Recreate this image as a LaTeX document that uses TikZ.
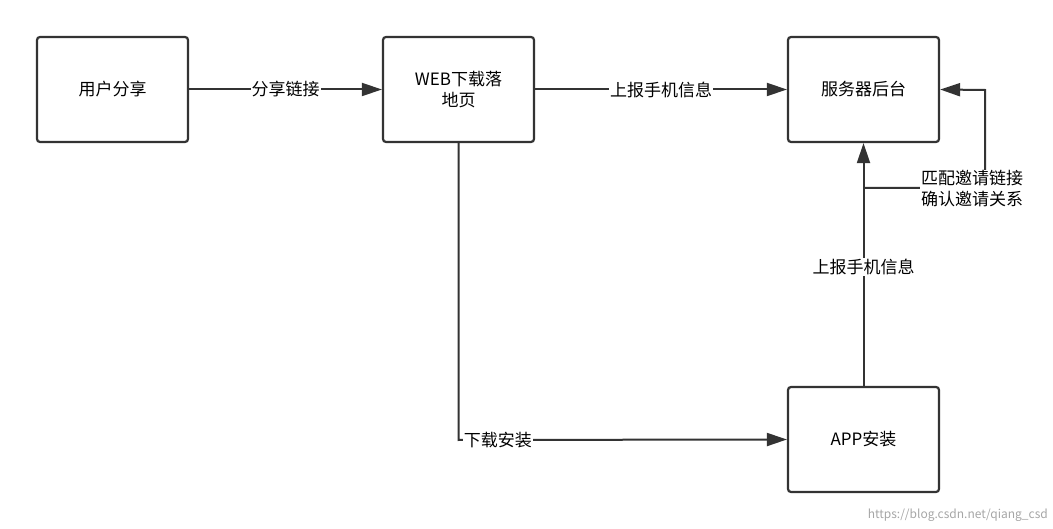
\documentclass[tikz,border=0pt]{standalone}
\usepackage{fontspec}
\setmainfont{Noto Sans CJK SC}
\usetikzlibrary{arrows.meta}
\definecolor{ln}{HTML}{333333}
\begin{document}
\begin{tikzpicture}[x=1pt,y=-1pt,
  box/.style={draw=ln,line width=2.2pt,rounded corners=3pt,minimum width=151pt,minimum height=105pt,align=center,font=\fontsize{17}{21}\selectfont,inner sep=0pt,text=black},
  conn/.style={draw=ln,line width=2pt,-{Triangle[length=20pt,width=13pt]}},
  lbl/.style={fill=white,inner sep=1pt,font=\fontsize{17}{21}\selectfont,align=left}]
\useasboundingbox (0,0) rectangle (1053,529);
\node[box] (share) at (112.5,89.5) {用户分享};
\node[box] (web) at (458.5,89.5) {WEB下载落\\地页};
\node[box] (srv) at (863.5,89.5) {服务器后台};
\node[box] (app) at (863.5,439.5) {APP安装};
\draw[conn] (share.east) -- node[lbl]{分享链接} (web.east -| web.west);
\draw[conn] (web.east) -- node[lbl]{上报手机信息} (srv.west);
\coordinate (c1) at (458.5,440);
\draw[conn] (web.south) -- (c1) -- node[lbl,pos=0.12]{下载安装} (app.west);
\draw[conn] (app.north) -- node[lbl,pos=0.49]{上报手机信息} (srv.south);
\coordinate (l1) at (863.5,188);
\coordinate (l2) at (985,188);
\coordinate (l3) at (985,90);
\draw[conn] (l1) -- (l2) -- (l3) -- (srv.east);
\node[lbl,align=left] (note) at (972,189) {匹配邀请链接\\确认邀请关系};
\node[anchor=south east,text=gray!70,font=\fontsize{12}{14}\selectfont,inner sep=2pt] (wm) at (1050,524) {https://blog.csdn.net/qiang\_csd};
\end{tikzpicture}
\end{document}
